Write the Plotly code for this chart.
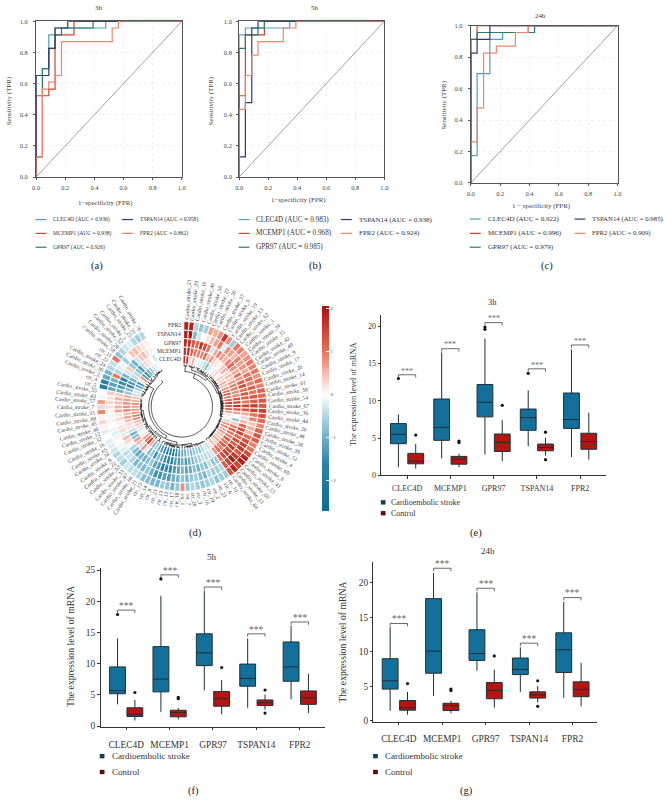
import math
import numpy as np
import plotly.graph_objects as go

W, H = 664, 803
SERIF = "Liberation Serif"
GENES = ["CLEC4D", "MCEMP1", "GPR97", "TSPAN14", "FPR2"]
ROC_COLORS = ["#4f9fc2", "#d8402c", "#2a7f66", "#2b3d6d", "#f0836c"]

# ---- ROC step vertices (false positive rate, true positive rate) ----
A_CLEC4D_FPR = [0, 0, .043, .087, .13, .478, 1]
A_CLEC4D_TPR = [0, .652, .696, .913, .957, 1, 1]
A_MCEMP1_FPR = [0, 0, .087, .13, .26, 1]
A_MCEMP1_TPR = [0, .522, .565, .913, 1, 1]
A_GPR97_FPR = [0, 0, .043, .087, .13, .174, .391, 1]
A_GPR97_TPR = [0, .13, .696, .826, .913, .957, 1, 1]
A_TSPAN14_FPR = [0, 0, .087, .13, .217, 1]
A_TSPAN14_TPR = [0, .652, .826, .957, 1, 1]
A_FPR2_FPR = [0, 0, .043, .087, .13, .174, .522, .565, 1]
A_FPR2_TPR = [0, .13, .565, .609, .652, .87, .957, 1, 1]
A_AUC = ["0.936", "0.938", "0.926", "0.958", "0.862"]

B_CLEC4D_FPR = [0, 0, .043, .348, 1]
B_CLEC4D_TPR = [0, .913, .957, 1, 1]
B_MCEMP1_FPR = [0, 0, .043, .174, 1]
B_MCEMP1_TPR = [0, .522, .913, 1, 1]
B_GPR97_FPR = [0, 0, .043, .13, .174, 1]
B_GPR97_TPR = [0, .826, .913, .957, 1, 1]
B_TSPAN14_FPR = [0, 0, .043, .087, .13, 1]
B_TSPAN14_TPR = [0, .13, .478, .957, 1, 1]
B_FPR2_FPR = [0, 0, .043, .087, .13, .304, .391, 1]
B_FPR2_TPR = [0, .435, .652, .783, .87, .957, 1, 1]
B_AUC = ["0.983", "0.968", "0.985", "0.938", "0.924"]

C_CLEC4D_FPR = [0, 0, .043, .13, .217, .391, 1]
C_CLEC4D_TPR = [0, .174, .696, .913, .957, 1, 1]
C_MCEMP1_FPR = [0, 0, .043, 1]
C_MCEMP1_TPR = [0, .913, 1, 1]
C_GPR97_FPR = [0, 0, .043, .435, 1]
C_GPR97_TPR = [0, .913, .957, 1, 1]
C_TSPAN14_FPR = [0, 0, .043, .13, 1]
C_TSPAN14_TPR = [0, .826, .913, 1, 1]
C_FPR2_FPR = [0, 0, .043, .087, .174, .304, .391, 1]
C_FPR2_TPR = [0, .261, .478, .826, .87, .957, 1, 1]
C_AUC = ["0.922", "0.996", "0.979", "0.985", "0.909"]

# ---- Circular heatmap: columns run clockwise, one list per gene ----
SAMPLES = (
    ["Cardio_stroke_%d" % n for n in [23, 29, 10, 46, 56, 27, 50, 37, 5, 19, 13, 62, 1, 34, 15, 42, 49, 9, 17, 20,
                                      14, 61, 59, 54, 67, 36, 44, 26, 48, 38, 39, 51, 4, 69, 8, 41, 53, 60, 11, 64]]
    + ["ctr_%d" % n for n in [10, 6, 21, 2, 19, 16, 3, 20, 7, 1, 18, 17, 12, 13, 23, 8, 14, 15]]
    + ["Cardio_stroke_%d" % n for n in [21, 66, 47, 33, 63, 22, 6, 18, 65, 16, 32, 12, 40, 45, 68, 35, 7, 57, 43, 55]]
    + ["ctr_5", "ctr_4", "Cardio_stroke_2", "Cardio_stroke_30", "Cardio_stroke_24", "ctr_22", "ctr_11"]
    + ["Cardio_stroke_%d" % n for n in [58, 28, 52, 3, 25, 31, 70]]
)
FPR2_Z = [1.9, 1.9, -.5, -.7, -.6, .7, .6, .8, 1.6, .8,
          -.6, 1.0, .9, .7, .8, 1.0, .9, 1.0, .8, 1.1,
          .9, 1.2, 1.1, 1.3, 1.3, 1.5, 1.4, 1.1, .9, 1.2,
          1.3, 1.2, .9, 1.0, 1.4, 1.8, 1.9, 1.5, 1.8, 1.3,
          -.6, -.6, -.7, -.5, -.6, -.7, -.6, -.5, -.7, .8,
          -.7, -.9, -.7, -.6, -.9, -.9, -.8, -.8, -.5, -.4,
          -.4, -.3, -.6, -.4, -.5, -.3, -.2, -.2, .0, -.2,
          .1, .3, .1, .9, .3, .7, -.1, .0, -1.9, -1.7,
          -1.1, -.9, -.5, -.4, 1.0, -.7, -.5, -.3, -.2, -.5, -.6, -.5]
TSPAN14_Z = [1.9, 2.0, -.9, -.3, .0, .2, .5, .7, 1.0, -.2,
             .8, .7, .5, .9, .7, .8, .6, 1.0, 1.1, .9,
             1.2, 1.0, 1.3, 1.2, 1.6, 1.5, 1.0, .9, .4, .6,
             .5, 1.1, 1.4, 1.5, 1.6, 1.3, 1.6, 1.9, 1.5, 1.2,
             -.5, -.6, -.6, -.5, -.9, -.8, -.6, -.7, -.9, -.7,
             -.9, -1.0, -1.3, -1.2, -1.4, -1.4, -1.0, -.7, -.9, -.7,
             -.9, -.5, -.3, -.4, -.2, -.1, .0, .1, -.2, -.1,
             .0, .1, -.1, .1, .2, .3, .2, .4, -1.1, -1.2,
             -1.0, 1.0, -.5, -.2, -.1, -.6, -.1, .4, .5, .3, .2, .1]
GPR97_Z = [1.8, 1.7, 1.3, 1.1, 1.7, 1.4, 1.0, -.3, .6, .9,
           .7, .5, .9, 1.1, .8, .6, 1.0, .7, 1.2, 1.4,
           1.0, 1.3, 1.2, 1.0, 1.5, 1.3, .6, .3, .5, 1.1,
           1.3, 1.5, 1.1, 1.4, 1.2, 1.6, 1.3, 1.5, 1.4, 1.0,
           -.6, -.7, -.4, -.8, -.7, -1.0, -.8, -1.1, -1.2, -.9,
           -1.2, -1.3, -1.7, -1.5, -1.8, -1.3, -1.2, -.7, -.8, -1.0,
           -.9, -1.1, -.8, -.5, -.1, .3, .5, -.2, .3, .2,
           .1, .3, .2, .7, .6, .5, .6, .4, -1.0, -1.3,
           -1.5, -1.7, -.9, -.3, .4, -.7, -1.0, -.3, .4, .5, .2, -.1]
MCEMP1_Z = [1.7, 1.7, 1.2, 1.0, 1.0, .9, 1.1, .5, .8, .3,
            .2, .1, .4, .6, .3, .5, .4, .7, .9, 1.0,
            .8, .9, 1.3, 1.4, 1.7, 1.2, .7, .0, -.7, .4,
            1.0, 1.2, 1.0, .9, 1.3, 1.0, 1.2, .9, 1.1, .8,
            -.3, -.4, -.5, -.4, -.6, -.7, -.9, -1.1, -1.4, -1.1,
            -1.4, -1.3, -1.8, -1.7, -1.5, -1.1, -.9, -1.5, -.7, -.8,
            .2, .7, -.3, .5, .7, -.8, -1.0, -.4, .2, .3,
            .5, .7, .5, .9, .8, .8, .7, .6, -.7, -.9,
            -1.6, -1.3, -1.0, -.4, -.5, -.8, -1.3, -.4, .3, .2, .0, -.3]
CLEC4D_Z = [1.7, 1.7, .3, .6, .1, -.2, -.3, -.5, -.9, -.3,
            -.1, .2, .3, .1, .4, .3, .6, .5, .8, 1.0,
            1.3, 1.0, 1.2, 1.5, 1.3, 1.1, .7, .2, .1, .4,
            .8, .9, .6, .7, .5, .4, .6, .3, .5, .2,
            -.4, -.3, -.5, -.7, -.6, -.8, -.9, -.7, -1.0, -1.1,
            -1.3, -1.5, -1.9, -2.0, -1.8, -1.5, -1.3, -1.0, -.6, -.9,
            .6, 1.6, 1.0, .7, .2, -.1, -.3, .3, .4, .5,
            .9, 1.0, .8, .8, .7, .9, .6, .5, -.4, -.3,
            -.6, -1.2, -1.4, -.2, .8, -1.2, -1.4, -.9, -.6, -.3, -.2, -.1]

# ---- Box summaries ----
CTRL_LO = [0.9, 1.1, 1.9, 2.65, 2.1]
CTRL_Q1 = [1.55, 1.5, 3.2, 3.3, 3.5]
CTRL_MED = [1.9, 2.2, 4.4, 3.75, 4.55]
CTRL_Q3 = [2.95, 2.55, 5.55, 4.2, 5.65]
CTRL_HI = [4.2, 2.9, 7.4, 5.05, 8.4]
CTRL_OUT_GENE = [0, 1, 1, 2, 3, 3]
CTRL_OUT_VAL = [5.4, 4.4, 4.6, 9.4, 5.8, 2.1]

E_LO = [1.1, 2.3, 2.8, 3.9, 2.45]
E_Q1 = [4.25, 4.7, 7.85, 6.05, 6.3]
E_MED = [5.5, 6.45, 9.8, 7.75, 7.5]
E_Q3 = [6.95, 10.25, 12.2, 8.9, 11.05]
E_HI = [8.2, 16.5, 18.35, 11.4, 16.9]
E_OUT_GENE = [0, 2, 2, 3]
E_OUT_VAL = [13.0, 19.9, 19.6, 13.7]
E_BRACKET = [13.5, 17.0, 20.5, 14.3, 17.5]

F_LO = [3.5, 2.3, 5.75, 2.95, 4.3]
F_Q1 = [5.2, 5.5, 9.7, 6.4, 7.2]
F_MED = [5.7, 7.55, 11.75, 7.65, 9.5]
F_Q3 = [9.5, 12.75, 14.8, 9.95, 13.5]
F_HI = [14.05, 20.9, 21.7, 14.05, 16.1]
F_OUT_GENE = [0, 1]
F_OUT_VAL = [17.9, 23.6]
F_BRACKET = [18.6, 24.25, 22.3, 14.8, 16.7]

G_LO = [1.45, 3.6, 7.25, 4.2, 3.35]
G_Q1 = [4.6, 6.9, 8.75, 6.7, 7.0]
G_MED = [5.8, 10.1, 9.75, 7.45, 10.3]
G_Q3 = [9.0, 17.7, 13.2, 9.1, 12.75]
G_HI = [13.6, 21.4, 18.6, 10.65, 17.2]
G_OUT_GENE = []
G_OUT_VAL = []
G_BRACKET = [14.1, 22.1, 19.2, 11.25, 17.85]

STROKE_FILL, CTRL_FILL = "#12709a", "#b5140f"
BOX_LINE = "#1e2f38"

fig = go.Figure()
annotations, shapes = [], []


def px_x(x):
    return x / W


def px_y(y):
    return 1 - y / H


def text(x, y, s, size, color="#333333", anchor="center", angle=0):
    annotations.append(dict(x=px_x(x), y=px_y(y), xref="paper", yref="paper", text=s, showarrow=False,
                            xanchor=anchor, yanchor="middle", textangle=angle,
                            font=dict(family=SERIF, size=size, color=color)))


def axis_pair(n, left, right, top, bottom):
    suffix = "" if n == 1 else str(n)
    return ("x" + suffix, "y" + suffix, "xaxis" + suffix, "yaxis" + suffix,
            [px_x(left), px_x(right)], [px_y(bottom), px_y(top)])


layout_axes = {}


def roc_panel(n, box, series, xtitle, xt_pos, yt_pos, font_tick, y_pad):
    xid, yid, xname, yname, xd, yd = axis_pair(n, *box)
    fig.add_trace(go.Scatter(x=[0, 1], y=[0, 1], mode="lines", xaxis=xid, yaxis=yid, showlegend=False,
                             line=dict(color="#a0a0a0", width=1)))
    for gene, color, (fx, ty) in zip(GENES, ROC_COLORS, series):
        fig.add_trace(go.Scatter(x=fx, y=ty, mode="lines", name=gene, xaxis=xid, yaxis=yid, showlegend=False,
                                 line=dict(color=color, width=1.2, shape="hv")))
    common = dict(range=[0, 1], showline=True, mirror=True, linecolor="#555555", linewidth=1, ticks="outside",
                  ticklen=2, tickwidth=0.8, tickcolor="#555555", dtick=0.2, tickformat=".1f", zeroline=False,
                  showgrid=True, gridcolor="#efefef", griddash="dot", gridwidth=0.6,
                  tickfont=dict(family=SERIF, size=font_tick, color="#444444"))
    layout_axes[xname] = dict(domain=xd, anchor=yid, ticklabelstandoff=2, **common)
    layout_axes[yname] = dict(domain=yd, anchor=xid, ticklabelstandoff=y_pad, **common)
    text(xt_pos[0], xt_pos[1], xtitle, font_tick + 0.5, color="#444444")
    text(yt_pos[0], yt_pos[1], "Sensitivity (TPR)", font_tick + 0.5, color="#444444", angle=-90)


def roc_legend(col1_x, col2_x, rows, aucs, size1, size2):
    pos = [(col1_x, rows[0]), (col1_x, rows[1]), (col1_x, rows[2]), (col2_x, rows[0]), (col2_x, rows[1])]
    sizes = [size1, size1, size1, size2, size2]
    for gene, color, auc, (x, y), size in zip(GENES, ROC_COLORS, aucs, pos, sizes):
        shapes.append(dict(type="line", xref="paper", yref="paper", x0=px_x(x), x1=px_x(x + 11), y0=px_y(y), y1=px_y(y),
                           line=dict(color=color, width=1.2)))
        text(x + 16, y, "%s (AUC = %s)" % (gene, auc), size, anchor="left")


roc_panel(1, (32.5, 180, 17.5, 175),
          [(A_CLEC4D_FPR, A_CLEC4D_TPR), (A_MCEMP1_FPR, A_MCEMP1_TPR), (A_GPR97_FPR, A_GPR97_TPR),
           (A_TSPAN14_FPR, A_TSPAN14_TPR), (A_FPR2_FPR, A_FPR2_TPR)], "1\u2212specificity (FPR)", (103, 201), (4.5, 98), 6.4, 4)
roc_panel(2, (238, 385, 17.5, 175),
          [(B_CLEC4D_FPR, B_CLEC4D_TPR), (B_MCEMP1_FPR, B_MCEMP1_TPR), (B_GPR97_FPR, B_GPR97_TPR),
           (B_TSPAN14_FPR, B_TSPAN14_TPR), (B_FPR2_FPR, B_FPR2_TPR)], "1\u2212specificity (FPR)", (298, 198), (209, 98), 6.4, 3)
roc_panel(3, (472.5, 621, 22, 181),
          [(C_CLEC4D_FPR, C_CLEC4D_TPR), (C_MCEMP1_FPR, C_MCEMP1_TPR), (C_GPR97_FPR, C_GPR97_TPR),
           (C_TSPAN14_FPR, C_TSPAN14_TPR), (C_FPR2_FPR, C_FPR2_TPR)], "1 \u2212 specificity (FPR)", (544, 204), (445, 103), 6.4, 4)
roc_legend(32, 119.5, (218, 232, 246), A_AUC, 5.6, 5.6)
roc_legend(237.5, 341, (218, 232, 246), B_AUC, 7.2, 7.0)
roc_legend(471.5, 577.5, (217.5, 232, 246), C_AUC, 7.0, 6.8)

# ---- Circular heatmap ----
C_X, C_Y, R_OUT, R_IN = 180, 407, 86, 43
ROW_NAMES = ["CLEC4D", "MCEMP1", "GPR97", "TSPAN14", "FPR2"]
ROWS = [CLEC4D_Z, MCEMP1_Z, GPR97_Z, TSPAN14_Z, FPR2_Z]
N_COL = len(SAMPLES)
assert all(len(r) == N_COL for r in ROWS)
STEP = 3.6
THETA0 = 3.2
thetas = [THETA0 + STEP * i for i in range(N_COL)]
row_h = (R_OUT - R_IN) / 5
bar_t, bar_r, bar_b, bar_z = [], [], [], []
for k, row in enumerate(ROWS):
    for i, v in enumerate(row):
        bar_t.append(thetas[i]); bar_r.append(row_h); bar_b.append(R_IN + k * row_h); bar_z.append(v)
CMIN, CMAX = -2.7, 2.07
zero = (0 - CMIN) / (CMAX - CMIN)
colorscale = [[0, "#0c6c90"], [(-1.6 - CMIN) / (CMAX - CMIN), "#2a84a6"], [(-0.7 - CMIN) / (CMAX - CMIN), "#94c6d9"],
              [zero, "#ffffff"], [(0.5 - CMIN) / (CMAX - CMIN), "#f7bbad"], [(1.1 - CMIN) / (CMAX - CMIN), "#e6674f"],
              [1, "#af0f0c"]]
fig.add_trace(go.Barpolar(theta=bar_t, r=bar_r, base=bar_b, width=STEP, subplot="polar", showlegend=False,
                          marker=dict(color=bar_z, colorscale=colorscale, cmin=CMIN, cmax=CMAX,
                                      line=dict(color="#ffffff", width=1),
                                      colorbar=dict(thickness=7, x=px_x(322), xanchor="left", y=px_y(305), yanchor="top",
                                                    len=207 / H, lenmode="fraction", ticks="inside", ticklen=3,
                                                    tickcolor="#ffffff", tickvals=[-2, -1, 0, 1, 2], outlinewidth=0,
                                                    xpad=0, ypad=0, tickfont=dict(family=SERIF, size=5, color="#444444")))))


def adj_cluster(a, b):
    """Order-preserving average-linkage clustering of columns a..b; returns the top node."""
    data = np.array(ROWS).T
    nodes = [dict(cols=[i], theta=thetas[i], r=R_IN - 0.3) for i in range(a, b + 1)]
    while len(nodes) > 1:
        ds = [np.linalg.norm(data[nodes[j]["cols"]].mean(0) - data[nodes[j + 1]["cols"]].mean(0))
              for j in range(len(nodes) - 1)]
        j = int(np.argmin(ds))
        n1, n2 = nodes[j], nodes[j + 1]
        nodes[j:j + 2] = [dict(cols=n1["cols"] + n2["cols"], theta=(n1["theta"] + n2["theta"]) / 2,
                               c=(n1, n2), d=ds[j], r=None)]
    return nodes[0]


den_t, den_r = [], []


def arc(t1, t2, r):
    n = max(2, int(abs(t2 - t1) / 2) + 2)
    den_t.extend(np.linspace(t1, t2, n).tolist() + [None])
    den_r.extend([r] * n + [None])


def stem(t, r1, r2):
    den_t.extend([t, t, None]); den_r.extend([r1, r2, None])


def draw(node, r_top, dmax):
    if "c" not in node:
        return
    node["r"] = max(r_top, R_IN - 0.8 - (R_IN - 0.8 - r_top) * (node["d"] / dmax) ** 1.2)
    for ch in node["c"]:
        draw(ch, r_top, dmax)
        if ch["r"] < node["r"]:
            ch["r"] = node["r"] + 0.3
        stem(ch["theta"], ch["r"], node["r"])
    arc(node["c"][0]["theta"], node["c"][1]["theta"], node["r"])


def build(a, b, r_top):
    node = adj_cluster(a, b)

    def maxd(n):
        return max([n["d"]] + [maxd(c) for c in n["c"] if "c" in c]) if "c" in n else 0

    draw(node, r_top, maxd(node))
    return node


def join(n1, n2, r, at=None):
    stem(n1["theta"], n1["r"], r)
    stem(n2["theta"], n2["r"], r)
    arc(n1["theta"], n2["theta"], r)
    return dict(theta=(n1["theta"] + n2["theta"]) / 2 if at is None else at, r=r)


deep = build(0, 1, 41)
red = build(2, 39, 38)
blue = build(40, 57, 38.5)
left = build(58, 77, 38)
upper = build(78, 91, 38.5)
right_part = join(deep, red, 35.5, at=22)
lower_part = join(blue, left, 36.5)
left_part = join(lower_part, upper, 33.5, at=322)
join(right_part, left_part, 31)
fig.add_trace(go.Scatterpolar(theta=den_t, r=den_r, mode="lines", subplot="polar", showlegend=False,
                              connectgaps=False, line=dict(color="#222222", width=0.8)))

for t, s in zip(thetas, SAMPLES):
    w = 39 if s.startswith("Cardio") else 13
    rc = R_OUT + 2.5 + w / 2
    x = C_X + rc * math.sin(math.radians(t))
    y = C_Y - rc * math.cos(math.radians(t))
    ang = t - 90 if t <= 180 else t - 270
    text(x, y, s, 5.6, color="#444444", angle=ang)
for gene, y in zip(ROW_NAMES, [359, 351, 343, 334, 325]):
    text(181, y, gene, 5.8, color="#333333", anchor="right")


# ---- Box panels ----
def box_panel(n, box, rng_y, rng_x, ticks_y, lo, q1, med, q3, hi, out_g, out_v, brk, fs, ytitle_pos, x_pad, star_off):
    xid, yid, xname, yname, xd, yd = axis_pair(n, *box)
    offset = 0.2
    idx = list(range(len(GENES)))
    groups = [("Cardioembolic stroke", -offset, lo, q1, med, q3, hi, STROKE_FILL, out_g, out_v),
              ("Control", offset, CTRL_LO, CTRL_Q1, CTRL_MED, CTRL_Q3, CTRL_HI, CTRL_FILL, CTRL_OUT_GENE, CTRL_OUT_VAL)]
    for name, off, l, a, m, c, h, fill, og, ov in groups:
        fig.add_trace(go.Box(x=[i + off for i in idx], lowerfence=l, q1=a, median=m, q3=c, upperfence=h, name=name,
                             xaxis=xid, yaxis=yid, width=0.365, whiskerwidth=0, fillcolor=fill, showlegend=False,
                             line=dict(color=BOX_LINE, width=1)))
        if ov:
            fig.add_trace(go.Scatter(x=[g + off for g in og], y=ov, mode="markers", xaxis=xid, yaxis=yid, showlegend=False,
                                     marker=dict(color="#111111", size=3.2)))
    leg = rng_y[1] * 0.018
    for i, top in enumerate(brk):
        fig.add_trace(go.Scatter(x=[i - offset, i - offset, i + offset, i + offset], y=[top - leg, top, top, top - leg],
                                 mode="lines", xaxis=xid, yaxis=yid, showlegend=False, line=dict(color="#444444", width=0.8)))
        annotations.append(dict(x=i, y=top + star_off, xref=xid, yref=yid, text="***", showarrow=False, yanchor="middle",
                                font=dict(family=SERIF, size=fs, color="#666666")))
    layout_axes[xname] = dict(domain=xd, anchor=yid, range=rng_x, tickvals=idx, ticktext=GENES, showline=True, linecolor="#333333",
                              linewidth=1, ticks="outside", ticklen=2.5, tickcolor="#333333", zeroline=False, showgrid=False,
                              ticklabelstandoff=x_pad, tickfont=dict(family=SERIF, size=fs, color="#333333"))
    layout_axes[yname] = dict(domain=yd, anchor=xid, range=rng_y, tickvals=ticks_y, showline=True, linecolor="#333333", linewidth=1,
                              ticks="outside", ticklen=2.5, tickcolor="#333333", zeroline=False, showgrid=False,
                              tickfont=dict(family=SERIF, size=fs, color="#333333"))
    text(ytitle_pos[0], ytitle_pos[1], "The expression level of mRNA", fs + 0.3, angle=-90)


box_panel(4, (381.7, 609, 315, 476.7), [0, 21.46], [-0.6, 4.59], [0, 5, 10, 15, 20],
          E_LO, E_Q1, E_MED, E_Q3, E_HI, E_OUT_GENE, E_OUT_VAL, E_BRACKET, 8, (354, 395), 3, 0.5)
box_panel(5, (97.7, 325, 570.7, 731), [-0.1, 25.3], [-0.592, 4.584], [0, 5, 10, 15, 20, 25],
          F_LO, F_Q1, F_MED, F_Q3, F_HI, F_OUT_GENE, F_OUT_VAL, F_BRACKET, 9.4, (68, 650), 6, 0.6)
box_panel(6, (374, 600.7, 564, 725.7), [-0.1, 23.05], [-0.584, 4.577], [0, 5, 10, 15, 20],
          G_LO, G_Q1, G_MED, G_Q3, G_HI, G_OUT_GENE, G_OUT_VAL, G_BRACKET, 9.4, (343, 645), 6, 0.6)


def box_legend(x, rows, size):
    for name, y, color in zip(["Cardioembolic stroke", "Control"], rows, ["#123f54", "#5a0f0c"]):
        shapes.append(dict(type="rect", xref="paper", yref="paper", x0=px_x(x - 2.4), x1=px_x(x + 2.4),
                           y0=px_y(y + 2.2), y1=px_y(y - 2.2), fillcolor=color, line=dict(width=0)))
        text(x + (5.4 if size < 9 else 7.6), y, name, size, anchor="left")


box_legend(383.8, (504, 515), 8)
box_legend(99.3, (760.7, 776.7), 9)
box_legend(376, (760.7, 776.7), 9)

# ---- Titles and panel letters ----
for x, y, s, size in [(95.7, 3.5, "3h", 6.8), (314, 3.5, "5h", 6.8), (543, 12, "24h", 6.8),
                      (494, 301, "3h", 8.5), (211, 559, "5h", 9), (490, 553.5, "24h", 9)]:
    text(x, y, s, size)
for x, y, s in [(94, 264.5, "(a)"), (315, 264.5, "(b)"), (550, 264.5, "(c)"), (194, 535, "(d)"),
                (478, 535, "(e)"), (192, 796, "(f)"), (468, 796, "(g)")]:
    text(x, y, s, 10.5, color="#222222")

fig.update_layout(
    width=W, height=H, autosize=False, margin=dict(l=0, r=0, t=0, b=0), paper_bgcolor="white", plot_bgcolor="white",
    showlegend=False, annotations=annotations, shapes=shapes,
    polar=dict(domain=dict(x=[px_x(C_X - R_OUT), px_x(C_X + R_OUT)], y=[px_y(C_Y + R_OUT), px_y(C_Y - R_OUT)]),
               bgcolor="rgba(0,0,0,0)", barmode="overlay",
               radialaxis=dict(visible=False, range=[0, R_OUT]),
               angularaxis=dict(visible=False, direction="clockwise", rotation=90)),
    **layout_axes)
fig.write_html("out.html", config=dict(displayModeBar=False),
               post_script="document.body.style.margin='0';document.documentElement.style.overflow='hidden';")
